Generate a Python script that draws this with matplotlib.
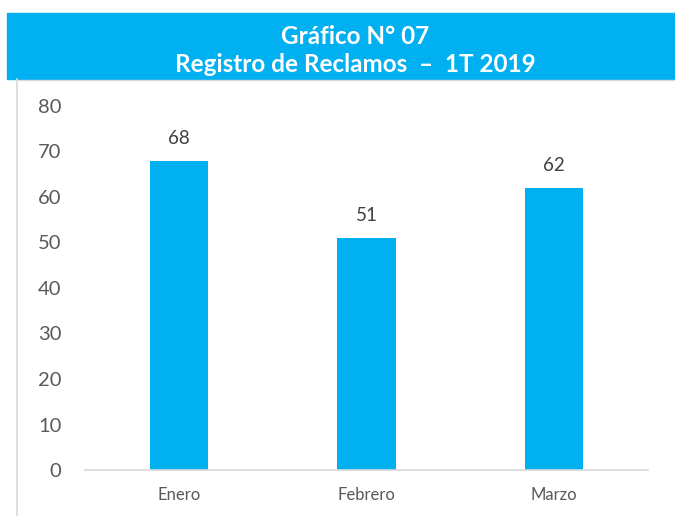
import matplotlib.pyplot as plt
from matplotlib.patches import Rectangle
from matplotlib.lines import Line2D

categories = ["Enero", "Febrero", "Marzo"]
values = [68, 51, 62]
yticks = [0, 10, 20, 30, 40, 50, 60, 70, 80]
title_lines = ["Gráfico N° 07", "Registro de Reclamos  –  1T 2019"]

plt.rcParams['font.family'] = ['Lato', 'DejaVu Sans']
BLUE = "#00B0F0"
GRAY = "#595959"

W, H = 675, 516
fig = plt.figure(figsize=(W / 100, H / 100), dpi=100)

# Title banner
fig.patches.append(Rectangle((7 / W, 1 - 79 / H), 1 - 7 / W, 66 / H,
                             transform=fig.transFigure, color=BLUE, zorder=0))
fig.text(355 / W, 1 - 37 / H, title_lines[0], color="white", fontsize=17.5,
         fontweight="bold", ha="center", va="center")
fig.text(355 / W, 1 - 64 / H, title_lines[1], color="white", fontsize=17.5,
         fontweight="bold", ha="center", va="center")

# Frame lines
fig.lines.append(Line2D([16.5 / W, 16.5 / W], [0, 1 - 79 / H], transform=fig.transFigure,
                        color="#D9D9D9", lw=1.2))
fig.lines.append(Line2D([16.5 / W, 1], [1 - 79.5 / H, 1 - 79.5 / H], transform=fig.transFigure,
                        color="#D9D9D9", lw=1.0))

ax = fig.add_axes([85 / W, 1 - 470 / H, 563 / W, 364 / H])
x = range(len(categories))
bars = ax.bar(x, values, width=0.31, color=BLUE, zorder=2)
ax.set_xlim(-0.5, len(categories) - 0.5)
ax.set_ylim(0, 80)
ax.set_yticks(yticks)
ax.set_xticks(list(x))
ax.set_xticklabels(categories)
for s in ["top", "right", "left"]:
    ax.spines[s].set_visible(False)
ax.spines["bottom"].set_color("#D9D9D9")
ax.spines["bottom"].set_linewidth(1.2)
ax.tick_params(axis="y", length=0, pad=17, labelsize=14.5, labelcolor=GRAY)
ax.tick_params(axis="x", length=0, pad=12, labelsize=12, labelcolor=GRAY)

for xi, v in zip(x, values):
    ax.annotate(str(v), (xi, v), xytext=(0, 10), textcoords="offset points",
                ha="center", va="bottom", fontsize=13.5, color="#404040")

fig.savefig("out.png", dpi=100)
